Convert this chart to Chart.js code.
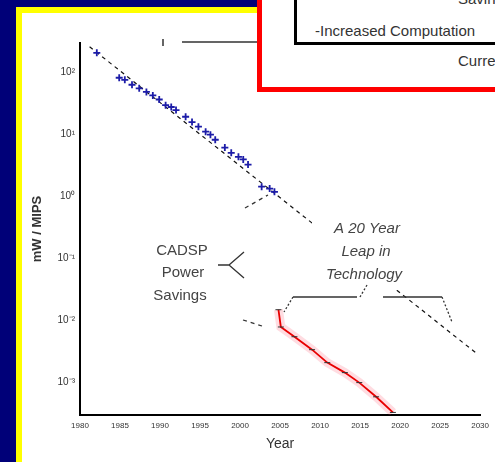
<!DOCTYPE html>
<html>
<head>
<meta charset="utf-8">
<script src="https://cdn.jsdelivr.net/npm/chart.js@4.4.1/dist/chart.umd.min.js"></script>
<style>
html, body { margin: 0; padding: 0; width: 495px; height: 462px; overflow: hidden; background: #000078; }
#frame { position: absolute; left: 16px; top: 7px; width: 600px; height: 600px; box-sizing: border-box; background: #fff; border: 6px solid #ffff00; }
#c { position: absolute; left: 0; top: 0; }
#redbox { position: absolute; left: 257px; top: -20px; width: 300px; height: 112px; box-sizing: border-box; border: 5px solid #ff0000; background: #fff; overflow: hidden;
  font-family: "Liberation Sans", Arial, sans-serif; font-size: 15px; color: #333; line-height: 18px; }
#blackbox { position: absolute; left: 32px; top: -10px; width: 300px; height: 70px; box-sizing: border-box; border: 3px solid #000; }
.t { position: absolute; white-space: nowrap; }
</style>
</head>
<body>
<div id="frame"></div>
<canvas id="c" width="495" height="462"></canvas>
<div id="redbox">
  <div id="blackbox">
    <div class="t" style="left:161px; top:12px;">Savings</div>
    <div class="t" style="left:18px; top:44px;">-Increased Computation</div>
  </div>
  <div class="t" style="left:196px; top:67px;">Current</div>
</div>
<script>
// DSP power per MIPS
const dspYears = [1982.1, 1984.9, 1985.6, 1986.5, 1987.4, 1988.3, 1989.1, 1989.9, 1990.7, 1991.4, 1992.0, 1993.2, 1994.0, 1994.8, 1995.7, 1996.3, 1996.9, 1998.1, 1998.9, 1999.8, 2000.4, 2001.0, 2002.7, 2003.7, 2004.3];
const dspPower = [210, 83, 77, 64, 56, 49, 43, 37, 30, 28, 25, 19.5, 16, 13.5, 11.2, 10, 8.3, 6.2, 5.1, 4.4, 4.0, 3.3, 1.45, 1.35, 1.2];

// extrapolated trend (dashed)
const trendYears = [1981.2, 2029.5];
const trendPower = [263, 0.003];

// CADSP
const cadspYears = [2004.8, 2005.1, 2006.8, 2009.0, 2010.9, 2013.1, 2014.9, 2017.0, 2019.1];
const cadspPower = [0.015, 0.0079, 0.0055, 0.0034, 0.0021, 0.00145, 0.001, 0.00059, 0.00033];

const xTicks = [1980, 1985, 1990, 1995, 2000, 2005, 2010, 2015, 2020, 2025, 2030];
const xTickLabels = ['1980', '1985', '1990', '1995', '2000', '2005', '2010', '2015', '2020', '2025', '2030'];
const yTicks = [100, 10, 1, 0.1, 0.01, 0.001];
const yTickLabels = ['10²', '10¹', '10⁰', '10⁻¹', '10⁻²', '10⁻³'];

const toXY = (xs, ys) => xs.map((x, i) => ({ x: x, y: ys[i] }));

const FONT = '"Liberation Sans", Arial, sans-serif';

// labels, brackets and leaders
const notes = {
  id: 'notes',
  afterDatasetsDraw(chart) {
    const ctx = chart.ctx;
    ctx.save();
    ctx.strokeStyle = '#333';
    ctx.lineWidth = 1.3;

    // cover under the lag text
    ctx.fillStyle = '#fff';
    ctx.fillRect(312, 214, 106, 76);

    ctx.fillStyle = '#444';
    ctx.textAlign = 'center';
    ctx.textBaseline = 'middle';
    ctx.font = 'italic 15px ' + FONT;
    ctx.fillText('A 20 Year', 367, 229);
    ctx.fillText('Leap in', 366, 252);
    ctx.fillText('Technology', 364, 275);

    ctx.font = '15px ' + FONT;
    ctx.fillText('CADSP', 182, 251);
    ctx.fillText('Power', 183, 273);
    ctx.fillText('Savings', 180, 296);

    // bracket
    ctx.setLineDash([]);
    ctx.beginPath();
    ctx.moveTo(293, 297); ctx.lineTo(357, 297);
    ctx.moveTo(383, 297); ctx.lineTo(442, 297);
    ctx.stroke();
    ctx.setLineDash([2, 2]);
    ctx.beginPath();
    ctx.moveTo(367, 285); ctx.lineTo(360, 297);
    ctx.moveTo(293, 297); ctx.lineTo(284, 312);
    ctx.moveTo(442, 297); ctx.lineTo(452, 322);
    ctx.stroke();

    // power savings leaders
    ctx.setLineDash([]);
    ctx.beginPath();
    ctx.moveTo(218, 265); ctx.lineTo(229, 265);
    ctx.moveTo(244, 252); ctx.lineTo(229, 265); ctx.lineTo(244, 278);
    ctx.stroke();
    ctx.setLineDash([4, 4]);
    ctx.beginPath();
    ctx.moveTo(245, 208); ctx.lineTo(268, 195);
    ctx.moveTo(243, 320); ctx.lineTo(262, 326);
    ctx.stroke();

    // line at the top
    ctx.setLineDash([]);
    ctx.lineWidth = 1.5;
    ctx.beginPath();
    ctx.moveTo(163, 39); ctx.lineTo(163, 46);
    ctx.moveTo(182, 42); ctx.lineTo(257, 42);
    ctx.stroke();
    ctx.restore();
  }
};

const ctx = document.getElementById('c').getContext('2d');
new Chart(ctx, {
  type: 'scatter',
  data: {
    datasets: [
      {
        label: 'Trend',
        data: toXY(trendYears, trendPower),
        showLine: true,
        borderColor: '#111',
        borderWidth: 1.2,
        borderDash: [4, 4],
        pointRadius: 0,
        order: 4
      },
      {
        label: 'DSP',
        data: toXY(dspYears, dspPower),
        showLine: false,
        pointStyle: 'cross',
        pointRadius: 3.5,
        pointBorderColor: '#1c1ca8',
        pointBorderWidth: 1.8,
        order: 2
      },
      {
        label: 'CADSP glow',
        data: toXY(cadspYears, cadspPower),
        showLine: true,
        borderColor: 'rgba(255,60,90,0.18)',
        borderWidth: 9,
        pointRadius: 0,
        order: 3
      },
      {
        label: 'CADSP',
        data: toXY(cadspYears, cadspPower),
        showLine: true,
        borderColor: '#e80000',
        borderWidth: 1.8,
        pointStyle: 'line',
        pointRadius: 3,
        pointBorderColor: '#333',
        pointBorderWidth: 1,
        order: 1
      }
    ]
  },
  options: {
    responsive: false,
    animation: false,
    devicePixelRatio: 1,
    layout: { padding: { left: 0, top: 43, right: 10, bottom: 0 } },
    plugins: { legend: { display: false }, tooltip: { enabled: false } },
    scales: {
      x: {
        type: 'linear',
        min: 1980,
        max: 2030,
        afterBuildTicks: s => { s.ticks = xTicks.map(v => ({ value: v })); },
        afterFit: s => { s.height = 47; },
        grid: { display: false, drawTicks: false },
        border: { color: '#000', width: 2 },
        ticks: {
          padding: 6,
          autoSkip: false,
          maxRotation: 0,
          color: '#333',
          font: { family: FONT, size: 8 },
          callback: (v, i) => xTickLabels[i]
        },
        title: { display: true, text: 'Year', color: '#333', font: { family: FONT, size: 14 }, padding: { top: 0, bottom: 9 } }
      },
      y: {
        type: 'logarithmic',
        min: 0.000302,
        max: 302,
        afterBuildTicks: s => { s.ticks = yTicks.map(v => ({ value: v })); },
        afterFit: s => { s.width = 80; },
        grid: { display: false, drawTicks: false },
        border: { color: '#000', width: 2 },
        ticks: {
          padding: 5,
          color: '#333',
          font: { family: FONT, size: 10 },
          callback: (v, i) => yTickLabels[i]
        },
        title: { display: true, text: 'mW / MIPS', color: '#333', font: { family: FONT, size: 13, weight: 'bold' }, padding: { top: 30, bottom: 0 } }
      }
    }
  },
  plugins: [notes]
});
</script>
</body>
</html>
